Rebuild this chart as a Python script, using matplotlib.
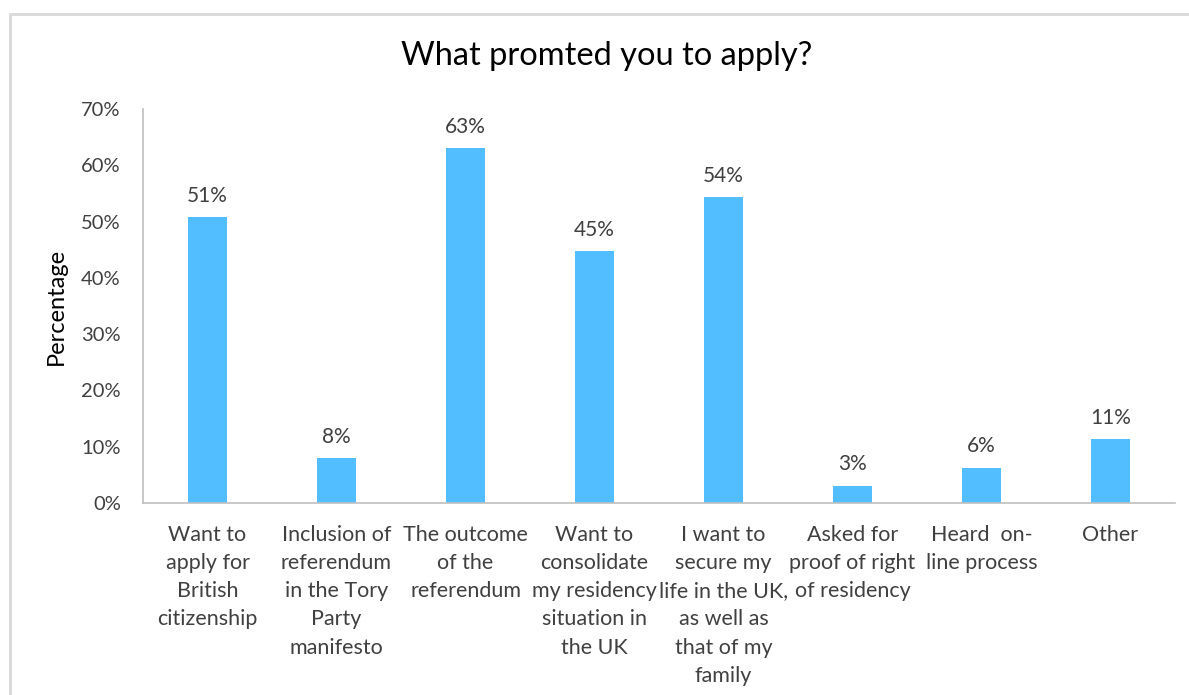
import matplotlib
matplotlib.use("Agg")
import matplotlib.pyplot as plt
from matplotlib.patches import Rectangle

plt.rcParams['font.family'] = ['Lato', 'DejaVu Sans']

title = "What promted you to apply?"
y_label = "Percentage"
categories = [
    "Want to\napply for\nBritish\ncitizenship",
    "Inclusion of\nreferendum\nin the Tory\nParty\nmanifesto",
    "The outcome\nof the\nreferendum",
    "Want to\nconsolidate\nmy residency\nsituation in\nthe UK",
    "I want to\nsecure my\nlife in the UK,\nas well as\nthat of my\nfamily",
    "Asked for\nproof of right\nof residency",
    "Heard  on-\nline process",
    "Other",
]
values = [50.8, 8.0, 63.1, 44.7, 54.4, 3.1, 6.3, 11.3]
y_ticks = [0, 10, 20, 30, 40, 50, 60, 70]

bar_color = "#52BEFF"
text_color = "#404040"

fig = plt.figure(figsize=(11.89, 6.95), dpi=100)
fig.patch.set_facecolor("white")

# chart-area frame
fig.patches.append(Rectangle((10 / 1189, -0.1), 1.2, (695 - 14) / 695 + 0.1,
                             transform=fig.transFigure, fill=False,
                             edgecolor="#D9D9D9", linewidth=2, zorder=0))

ax = fig.add_axes([143 / 1189, 1 - 503 / 695, (1175 - 143) / 1189, (503 - 109) / 695])
x = list(range(len(categories)))
bars = ax.bar(x, values, width=0.31, color=bar_color, zorder=2)

for rect, v in zip(bars, values):
    ax.annotate(f"{v:.0f}%", (rect.get_x() + rect.get_width() / 2, v),
                xytext=(0, 8), textcoords="offset points",
                ha="center", va="bottom", fontsize=15, color=text_color)

ax.set_xlim(-0.5, len(categories) - 0.5)
ax.set_ylim(0, 70)
ax.set_yticks(y_ticks)
ax.set_yticklabels([f"{t}%" for t in y_ticks], fontsize=14.5, color=text_color)
ax.set_xticks(x)
ax.set_xticklabels(categories, fontsize=15.5, color=text_color, linespacing=1.52)
ax.tick_params(axis="both", length=0)
ax.tick_params(axis="y", pad=16)
ax.tick_params(axis="x", pad=15.5)

for s in ("top", "right"):
    ax.spines[s].set_visible(False)
for s in ("left", "bottom"):
    ax.spines[s].set_color("#BFBFBF")
    ax.spines[s].set_linewidth(1.2)

ax.set_ylabel(y_label, fontsize=17, color="black", labelpad=10)
fig.text(607 / 1189, 1 - 56 / 695, title, ha="center", va="center",
         fontsize=23.5, color="black")

fig.savefig("out.png", dpi=100, facecolor="white")
